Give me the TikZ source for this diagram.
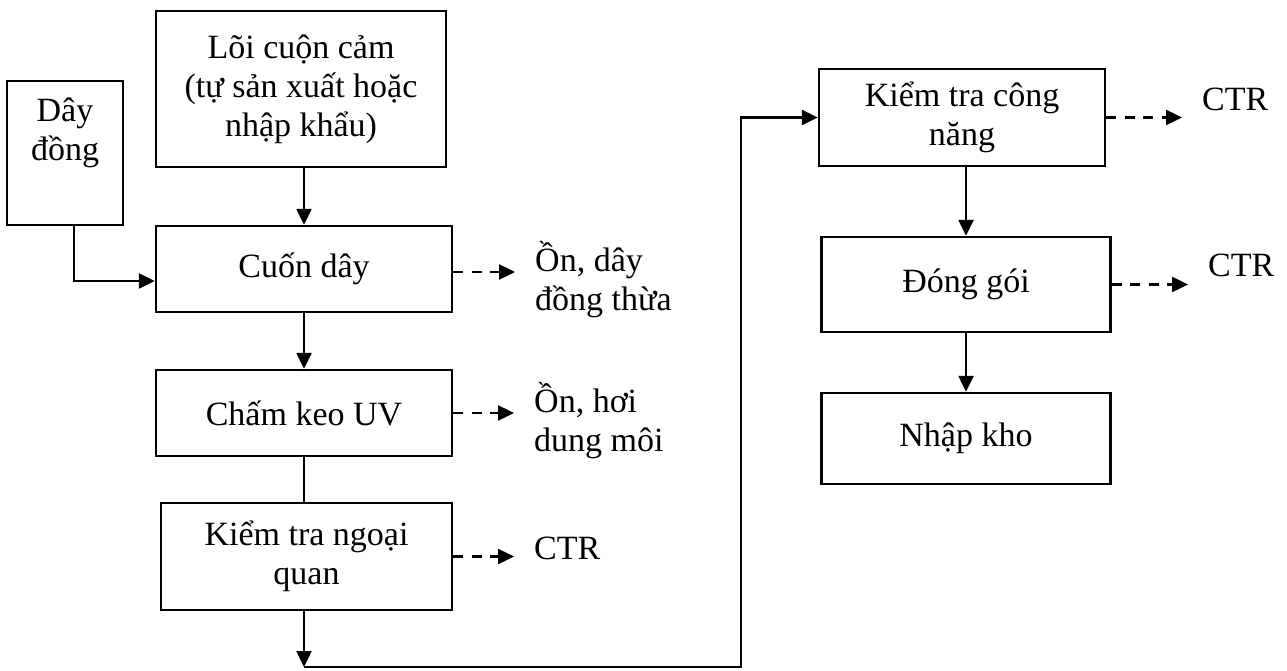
\documentclass[tikz,border=0pt]{standalone}
\usepackage{fontspec}
\setmainfont{Liberation Serif}
\usetikzlibrary{arrows.meta}
\begin{document}
\begin{tikzpicture}[x=1pt,y=-1pt,
  every node/.style={font=\fontsize{34}{39}\selectfont},
  stepbox/.style={draw, line width=2.4pt, inner sep=0pt, align=center},
  flow/.style={line width=2.4pt, -{Triangle[length=16pt,width=15pt]}},
  plainline/.style={line width=2.4pt},
  waste/.style={line width=2.4pt, dash pattern=on 10pt off 8.5pt,
                -{Triangle[length=16pt,width=15pt]}, shorten >=20pt},
  outlbl/.style={inner sep=0pt, align=left}]
  \useasboundingbox (0,0) rectangle (1287,671);

  % process steps, left column
  \node[stepbox, minimum width=116pt, minimum height=144pt] (dd) at (65,153)
    {Dây\\đồng\\\rule[-9pt]{0pt}{0pt}};
  \node[stepbox, minimum width=290pt, minimum height=156pt] (loi) at (301,89)
    {Lõi cuộn cảm\\(tự sản xuất hoặc\\nhập khẩu)};
  \node[stepbox, minimum width=296pt, minimum height=86pt] (cd) at (304,269)
    {Cuốn dây};
  \node[stepbox, minimum width=296pt, minimum height=86pt] (ck) at (304,413)
    {Chấm keo UV};
  \node[stepbox, minimum width=291pt, minimum height=107pt] (ktnq) at (306.5,556.5)
    {Kiểm tra ngoại\\quan};

  % process steps, right column
  \node[stepbox, minimum width=286pt, minimum height=97pt] (ktcn) at (962,117.5)
    {Kiểm tra công\\năng};
  \node[stepbox, minimum width=289pt, minimum height=95pt] (dg) at (966,284.5)
    {Đóng gói};
  \node[stepbox, minimum width=289pt, minimum height=91pt] (nk) at (966,438.5)
    {Nhập kho};

  % waste outputs
  \node[outlbl, anchor=west] (o1) at (535,280) {Ồn, dây\\đồng thừa};
  \node[outlbl, anchor=west] (o2) at (534,421) {Ồn, hơi\\dung môi};
  \node[outlbl, anchor=base west] (o3) at (534,559) {CTR};
  \node[outlbl, anchor=base west] (o4) at (1202,111) {CTR};
  \node[outlbl, anchor=base west] (o5) at (1208,276) {CTR};

  % connector end points
  \coordinate (cdin) at ([yshift=-12pt]cd.west);
  \coordinate (cdout) at ([yshift=-3pt]cd.east);
  \coordinate (b1) at (304,667);
  \coordinate (b2) at (741,667);

  % main flow
  \draw[flow] ([xshift=9pt]dd.south) |- (cdin);
  \draw[flow] (loi.south -| cd.north) -- (cd.north);
  \draw[flow] (cd.south) -- (ck.north);
  \draw[plainline] (ck.south) -- (ktnq.north -| ck.south);
  \draw[flow] (ktnq.south -| b1) -- (b1);
  \draw[flow] (b1) -- (b2) |- (ktcn.west);
  \draw[flow] (ktcn.south -| dg.north) -- (dg.north);
  \draw[flow] (dg.south) -- (nk.north);

  % waste arrows
  \draw[waste] (cdout) -- (o1.west |- cdout);
  \draw[waste] (ck.east) -- (o2.west |- ck.east);
  \draw[waste] (ktnq.east) -- (o3.west |- ktnq.east);
  \draw[waste] (ktcn.east) -- (o4.west |- ktcn.east);
  \draw[waste] (dg.east) -- (o5.west |- dg.east);
\end{tikzpicture}
\end{document}
